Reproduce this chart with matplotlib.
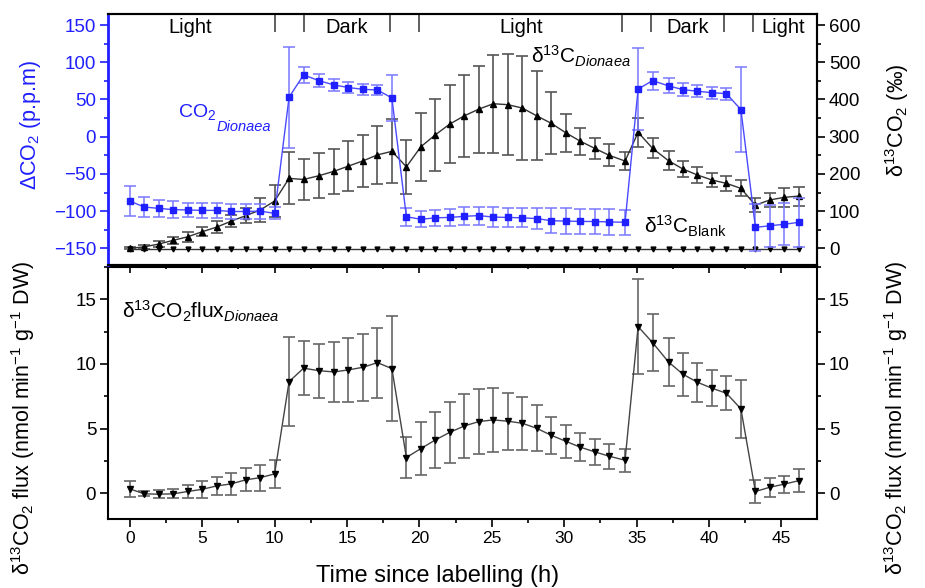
import numpy as np
import matplotlib.pyplot as plt
from matplotlib.ticker import MultipleLocator

plt.rcParams['font.family'] = ['Liberation Sans', 'DejaVu Sans']
plt.rcParams['mathtext.fontset'] = 'custom'
plt.rcParams['mathtext.rm'] = 'Liberation Sans'
plt.rcParams['mathtext.it'] = 'Liberation Sans:italic'
plt.rcParams['mathtext.bf'] = 'Liberation Sans:bold'

# time since labelling (h)
hours = [0, 1, 2, 3, 4, 5, 6, 7, 8, 9, 10, 11, 12, 13.05, 14.1, 15.1, 16.1, 17.1,
         18.1, 19.1, 20.1, 21.1, 22.1, 23.1, 24.1, 25.1, 26.1, 27.1, 28.1, 29.1,
         30.1, 31.1, 32.1, 33.1, 34.2, 35.1, 36.1, 37.2, 38.2, 39.2, 40.2, 41.2,
         42.2, 43.2, 44.2, 45.2, 46.2]

# delta CO2 of Dionaea (ppm)
co2 = [-86.5, -94.5, -96.3, -98, -98.5, -99, -99, -100.5, -100.5, -100, -103,
       53, 83, 75.3, 69.5, 66, 63.6, 62.7, 52, -107.5, -111, -109, -108.5, -107,
       -106, -108, -108.5, -109, -110, -112.9, -113.4, -113.8, -114, -114.5, -115,
       64, 75.3, 68.2, 63.2, 61, 59.1, 57.8, 36.3, -121.9, -119.6, -117.7, -115]
co2_err = [20, 13, 11, 11, 10, 10, 10, 10, 10, 10, 8, 68, 11, 9, 8, 8, 7, 7, 31,
           12, 11, 11, 12, 12, 12, 13, 13, 13, 14, 17, 17, 17, 17, 17, 17, 55, 12,
           10, 9, 8, 8, 8, 57, 32, 28, 28, 33]

# delta 13C of Dionaea (permil)
d13c = [0, 4, 11.5, 21.5, 31, 44.6, 57, 73, 87.6, 103, 127, 188, 185, 195, 207,
        221, 235, 251, 260.6, 219, 273, 305, 334, 356, 374, 388.5, 386, 377, 356,
        336, 310.6, 288, 268.7, 250, 234.5, 311.6, 268.6, 235.4, 213, 197, 183.5,
        174.6, 161, 116, 130, 137, 140.5]
d13c_err = [3, 5, 7, 9, 13, 12.5, 16, 16, 20, 31, 43, 70, 56, 60, 61, 68, 70, 77,
            86, 72, 91, 97, 106, 111, 117, 132, 136, 139, 120, 83, 51, 36, 28, 29,
            25, 38, 27, 26, 21.5, 21.5, 20, 20, 21.5, 19, 20, 25.5, 25.5]

# delta 13C of blank chamber (permil)
d13c_blank = [-2] * len(hours)
d13c_blank_err = [4] * len(hours)

# 13CO2 flux (nmol min-1 g-1 DW)
flux = [0.33, -0.05, -0.08, -0.05, 0.13, 0.3, 0.56, 0.72, 1.03, 1.2, 1.49, 8.63,
        9.67, 9.48, 9.38, 9.54, 9.74, 10.1, 9.64, 2.76, 3.45, 4.12, 4.71, 5.2,
        5.54, 5.67, 5.57, 5.41, 5.02, 4.48, 4.02, 3.56, 3.2, 2.86, 2.55, 12.89,
        11.65, 10.15, 9.2, 8.58, 8.12, 7.73, 6.52, 0.13, 0.46, 0.7, 0.97]
flux_err = [0.65, 0.2, 0.3, 0.35, 0.5, 0.65, 0.7, 0.88, 0.9, 1.0, 1.1, 3.45, 2.1,
            2.1, 2.35, 2.45, 2.6, 2.7, 4.07, 1.6, 2.05, 2.2, 2.36, 2.47, 2.5, 2.47,
            2.2, 2.06, 1.78, 1.44, 1.28, 1.1, 1.0, 0.97, 0.88, 3.7, 2.2, 1.87, 1.66,
            1.5, 1.4, 1.33, 2.26, 0.9, 0.72, 0.66, 0.89]

# light / dark phases
phase_names = ['Light', 'Dark', 'Light', 'Dark', 'Light']
phase_centres = [4.2, 15, 27, 38.5, 45.1]
phase_marks = [10, 12, 18, 20, 34, 36, 41, 43]

blue = '#1f1fff'
fig = plt.figure(figsize=(9.25, 5.88), dpi=100)
ax1 = fig.add_axes([0.1168, 0.5493, 0.7664, 0.4269])
ax3 = fig.add_axes([0.1168, 0.1173, 0.7664, 0.4286])
ax2 = ax1.twinx()

ylo, yhi = -172.4, 164.8
ax1.set_ylim(ylo, yhi)
ax2.set_ylim(2 * (ylo + 150), 2 * (yhi + 150))
for a in (ax1, ax3):
    a.set_xlim(-1.5, 47.45)

# top panel
ax1.errorbar(hours, co2, yerr=co2_err, color='#4a4aff', lw=1, marker='s', ms=4,
             mfc=blue, mec=blue, ecolor='#7878ff', elinewidth=1.1, capsize=4,
             capthick=1.1, zorder=3)
ax2.errorbar(hours, d13c, yerr=d13c_err, color='#333333', lw=1, marker='^', ms=5,
             mfc='black', mec='black', ecolor='#555555', elinewidth=1.2, capsize=4,
             capthick=1.2)
ax2.errorbar(hours, d13c_blank, yerr=d13c_blank_err, color='#333333', lw=1,
             marker='v', ms=3.5, mfc='black', mec='black', ecolor='#333333',
             elinewidth=1, capsize=0)
ax1.set_zorder(ax2.get_zorder() + 1)
ax1.patch.set_visible(False)

ax1.vlines(phase_marks, 1 - 18 / 251, 1, transform=ax1.get_xaxis_transform(),
           color='#444444', lw=1.2)
for name, xc in zip(phase_names, phase_centres):
    ax1.text(xc, 0.948, name, transform=ax1.get_xaxis_transform(), ha='center',
             va='center', fontsize=14.5)

ax1.yaxis.set_major_locator(MultipleLocator(50))
ax1.yaxis.set_minor_locator(MultipleLocator(25))
ax2.yaxis.set_major_locator(MultipleLocator(100))
ax2.yaxis.set_minor_locator(MultipleLocator(50))
ax1.xaxis.set_major_locator(MultipleLocator(5))
ax1.xaxis.set_minor_locator(MultipleLocator(2.5))
ax1.tick_params(axis='x', which='both', labelbottom=False, direction='out')
ax1.tick_params(axis='y', which='both', colors=blue, labelsize=13.5)
ax2.tick_params(axis='y', which='both', labelsize=13.5)
for a in (ax1, ax2, ax3):
    a.tick_params(which='major', length=5.5, width=1.2, pad=3)
    a.tick_params(which='minor', length=3, width=1.2)
    for s in a.spines.values():
        s.set_linewidth(1.5)
ax1.spines['left'].set_color(blue)
ax1.spines['left'].set_linewidth(2)
ax2.spines['left'].set_visible(False)

ax1.set_ylabel(r'ΔCO$_2$ (p.p.m)', color=blue, fontsize=15.5)
ax1.yaxis.set_label_coords(-0.092, 0.558)
ax2.set_ylabel(r'δ$^{13}$CO$_2$ (‰)', fontsize=15.5, rotation=90)
ax2.yaxis.set_label_coords(1.093, 0.578)

co2_txt = ax1.text(3.3, 26, r'CO$_2$', color=blue, fontsize=14)
ax1.annotate('Dionaea', xy=(1, 0), xycoords=co2_txt, xytext=(0.5, 2),
             textcoords='offset points', va='top', color=blue, fontsize=10.5,
             style='italic')
ax1.text(27.7, 97.7, r'δ$^{13}$C$_{Dionaea}$', fontsize=15)
ax1.text(35.5, -129.5, r'δ$^{13}$C$_{\mathrm{Blank}}$', fontsize=15)

# bottom panel
ax3.errorbar(hours, flux, yerr=flux_err, color='#444444', lw=1, marker='v', ms=5,
             mfc='black', mec='black', ecolor='#666666', elinewidth=1.2, capsize=4,
             capthick=1.2)
ax3.set_ylim(-2, 17.5)
ax3.yaxis.set_major_locator(MultipleLocator(5))
ax3.yaxis.set_minor_locator(MultipleLocator(2.5))
ax3.xaxis.set_major_locator(MultipleLocator(5))
ax3.xaxis.set_minor_locator(MultipleLocator(2.5))
ax3.tick_params(axis='y', which='both', right=True, labelright=True, labelsize=13.5)
ax3.tick_params(axis='x', labelsize=12.5)

flux_label = r'δ$^{13}$CO$_2$ flux (nmol min$^{-1}$ g$^{-1}$ DW)'
ax3.set_ylabel(flux_label, fontsize=15.5)
ax3.yaxis.set_label_coords(-0.1, 0.40)
ax3.text(1.111, 0.40, flux_label, transform=ax3.transAxes, rotation=90,
         ha='center', va='center', fontsize=15.5)
ax3.text(-0.57, 13.5, r'δ$^{13}$CO$_2$flux$_{Dionaea}$', fontsize=15)
ax3.set_xlabel('Time since labelling (h)', fontsize=17)
ax3.xaxis.set_label_coords(0.465, -0.183)

fig.savefig('out.png', dpi=100)
